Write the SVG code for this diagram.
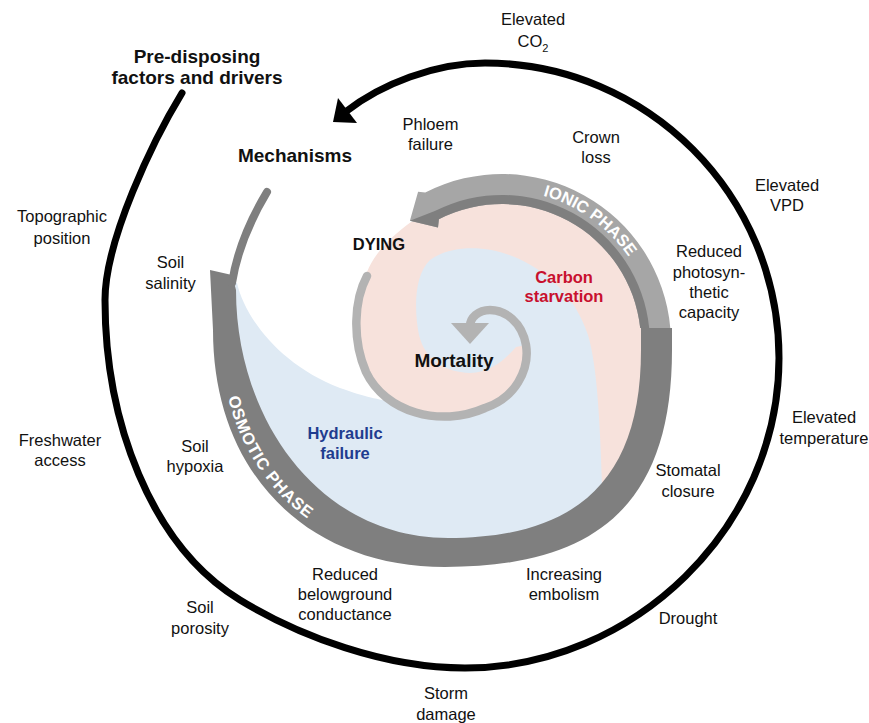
<svg xmlns="http://www.w3.org/2000/svg" width="869" height="723" viewBox="0 0 869 723">
<defs>
<style>
.t{font-family:"Liberation Sans",Arial,Helvetica,sans-serif;font-size:16.5px;text-anchor:middle;fill:#111}
.b{font-weight:bold}
.big{font-size:19px}
.band{font-family:"Liberation Sans",Arial,Helvetica,sans-serif;font-weight:bold;font-size:16.5px;fill:#fff}
.red{fill:#c8102e}
.navy{fill:#1f3c8f}
</style>
<path id="ionPath" d="M 515.3,190.6 A 153 153 0 0 1 654.4,329.7"/>
<path id="osmPath" d="M 220,330 C 220,467 310,560 445,560"/>
</defs>
<rect width="869" height="723" fill="#fff"/>
<g id="regions">
<path id="carbon-region" fill="#f7e2dc" d="M 645.2,328 A 144 144 0 0 0 436.6,214.7 L 411,222 C 392,236 375,252 367,272 L 367,276 C 354,300 352,340 366,372 C 371.7,384 380.6,393.8 391.6,401.2 L 446,552 C 585,552 656,485 656,350 L 656,328 Z"/>
<path id="hydraulic-region" fill="#dfeaf4" d="M 224,283 L 237,283 C 245,318 280,365 340,388 C 365,397 380,400 391.6,401.2 C 417.1,418.4 453.5,422 485,408 C 515,398 530,370 526,345 L 516,347 C 505,360 490,373 470,373 C 445,372 425,360 419,335 C 414,310 414,275 430,260 C 450,245 485,245 512,256 C 545,269 575,295 588,335 C 597,365 600,420 602,485 L 610,505 C 560,548 500,552 446,552 C 330,552 224,470 224,340 Z"/>
</g>
<g id="osmotic-phase">
<path fill="#7f7f7f" d="M 210,270 L 232,275 L 236,290 C 236,420 320,538 448,538 C 579,538 641,478 641,350 L 641,328 L 672,328 L 672,350 C 672,502 599,567 445,567 C 306,567 213,472 213,330 Z"/>
<path fill="none" stroke="#7f7f7f" stroke-width="8" stroke-linecap="round" d="M 267,192 C 255,212 238,245 232,283"/>
<text class="band" letter-spacing="0.8"><textPath href="#osmPath" startOffset="68">OSMOTIC PHASE</textPath></text>
</g>
<g id="ionic-phase">
<path fill="#a6a6a6" d="M 670.3,328 A 169 169 0 0 0 425.3,192.4 L 418.1,191.7 L 409.9,220.8 L 438,227.6 L 438.9,219.2 A 139 139 0 0 1 640.2,328 Z"/>
<path fill="#7f7f7f" d="M 649.2,328 A 148 148 0 0 0 434.8,211.1 L 409.9,220.8 L 438,227.6 L 438.9,219.2 A 139 139 0 0 1 640.2,328 Z"/>
<text class="band"><textPath href="#ionPath" startOffset="82" text-anchor="middle">IONIC PHASE</textPath></text>
</g>
<g id="connectors">
<path id="dying-spiral" fill="none" stroke="#b3b3b3" stroke-width="8.5" stroke-linecap="round" d="M 367,276 C 354,300 352,340 366,372 C 385,412 440,428 485,408 C 515,398 530,370 526,345 C 522,322 505,310 490,310 C 478,310 470,318 470,326"/>
<polygon fill="#b3b3b3" points="451,323 489,323 470,344"/>
<path id="driver-arc" fill="none" stroke="#000" stroke-width="7" stroke-linecap="round" d="M 182,93 C 153.4,139.8 105,240 105,300 C 105,420 150,545 240,600 C 299.5,636.4 385,668 465,668 C 634,668 779,527 779,358 C 779,195 647.4,63 485,63 C 435,63 381,84 346,111.5"/>
<polygon fill="#000" points="338,98 357,123 333,122"/>
</g>
<g id="title-predisposing"><text class="t b big" x="197" y="63">Pre-disposing</text><text class="t b big" x="197" y="84">factors and drivers</text></g>
<g id="title-mechanisms"><text class="t b big" x="295" y="162">Mechanisms</text></g>
<g id="node-dying"><text class="t b" x="379" y="250">DYING</text></g>
<g id="node-mortality"><text class="t b big" x="454" y="367">Mortality</text></g>
<g id="node-carbon"><text class="t b red" x="564" y="283">Carbon</text><text class="t b red" x="564" y="302">starvation</text></g>
<g id="node-hydraulic"><text class="t b navy" x="345" y="439">Hydraulic</text><text class="t b navy" x="345" y="459">failure</text></g>
<g id="node-co2"><text class="t" x="533" y="25">Elevated</text><text class="t" x="533" y="47">CO<tspan font-size="11" dy="5">2</tspan></text></g>
<g id="node-phloem"><text class="t" x="430.5" y="130">Phloem</text><text class="t" x="430.5" y="150">failure</text></g>
<g id="node-crown"><text class="t" x="596" y="143">Crown</text><text class="t" x="596" y="163">loss</text></g>
<g id="node-vpd"><text class="t" x="787" y="191">Elevated</text><text class="t" x="787" y="211">VPD</text></g>
<g id="node-photo"><text class="t" x="709" y="257">Reduced</text><text class="t" x="709" y="278">photosyn-</text><text class="t" x="709" y="298">thetic</text><text class="t" x="709" y="318">capacity</text></g>
<g id="node-temp"><text class="t" x="824" y="423">Elevated</text><text class="t" x="824" y="444">temperature</text></g>
<g id="node-stomatal"><text class="t" x="688" y="476">Stomatal</text><text class="t" x="688" y="497">closure</text></g>
<g id="node-drought"><text class="t" x="688" y="624">Drought</text></g>
<g id="node-embolism"><text class="t" x="564" y="580">Increasing</text><text class="t" x="564" y="600">embolism</text></g>
<g id="node-belowground"><text class="t" x="345" y="580">Reduced</text><text class="t" x="345" y="600">belowground</text><text class="t" x="345" y="620">conductance</text></g>
<g id="node-storm"><text class="t" x="446" y="699">Storm</text><text class="t" x="446" y="720">damage</text></g>
<g id="node-porosity"><text class="t" x="200" y="613">Soil</text><text class="t" x="200" y="634">porosity</text></g>
<g id="node-freshwater"><text class="t" x="60" y="446">Freshwater</text><text class="t" x="60" y="466">access</text></g>
<g id="node-hypoxia"><text class="t" x="195" y="452">Soil</text><text class="t" x="195" y="472">hypoxia</text></g>
<g id="node-salinity"><text class="t" x="170.5" y="268">Soil</text><text class="t" x="170.5" y="289">salinity</text></g>
<g id="node-topographic"><text class="t" x="62" y="222">Topographic</text><text class="t" x="62" y="244">position</text></g>
</svg>
